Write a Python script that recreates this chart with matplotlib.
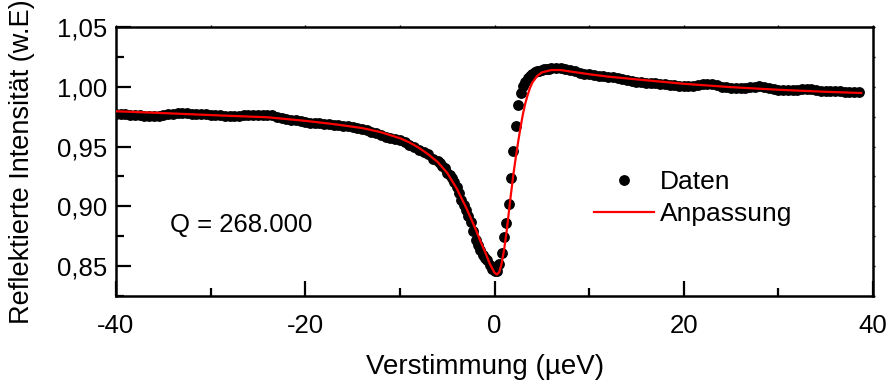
import numpy as np
import matplotlib
matplotlib.use("Agg")
import matplotlib.pyplot as plt
from matplotlib.ticker import MultipleLocator, FixedLocator, FuncFormatter

plt.rcParams['font.family'] = ['Liberation Sans', 'DejaVu Sans']
plt.rcParams['axes.unicode_minus'] = False

# Measured reflectance (detuning in µeV)
det_left = np.arange(-40.0, -6.25, 0.5)
refl_left = [
    0.9776, 0.9772, 0.9770, 0.9766, 0.9764, 0.9762, 0.9758, 0.9754, 0.9752, 0.9753,
    0.9762, 0.9772, 0.9776, 0.9778, 0.9778, 0.9777, 0.9776, 0.9775, 0.9774, 0.9770,
    0.9766, 0.9762, 0.9760, 0.9758, 0.9757, 0.9756, 0.9758, 0.9760, 0.9763, 0.9766,
    0.9768, 0.9768, 0.9766, 0.9760, 0.9751, 0.9742, 0.9733, 0.9725, 0.9718, 0.9710,
    0.9705, 0.9700, 0.9697, 0.9693, 0.9690, 0.9687, 0.9684, 0.9680, 0.9675, 0.9670,
    0.9664, 0.9657, 0.9650, 0.9638, 0.9625, 0.9610, 0.9595, 0.9580, 0.9570, 0.9563,
    0.9556, 0.9535, 0.9510, 0.9495, 0.9475, 0.9455, 0.9440, 0.9400,
]
det_mid = np.arange(-6.0, 5.875, 0.25)
refl_mid = [
    0.9380, 0.9360, 0.9340, 0.9320, 0.9280, 0.9265, 0.9235, 0.9200, 0.9160, 0.9110,
    0.9055, 0.9010, 0.8970, 0.8915, 0.8865, 0.8790, 0.8720, 0.8680, 0.8635, 0.8590,
    0.8565, 0.8550, 0.8510, 0.8480, 0.8455, 0.8460, 0.8515, 0.8610, 0.8745, 0.8860,
    0.9020, 0.9240, 0.9460, 0.9670, 0.9850, 0.9950, 1.0005, 1.0040, 1.0070, 1.0090,
    1.0110, 1.0120, 1.0130, 1.0135, 1.0140, 1.0145, 1.0150, 1.0150,
]
det_right = np.arange(6.0, 38.75, 0.5)
refl_right = [
    1.0158, 1.0160, 1.0158, 1.0152, 1.0143, 1.0128, 1.0118, 1.0110, 1.0103, 1.0098,
    1.0094, 1.0090, 1.0085, 1.0080, 1.0075, 1.0068, 1.0060, 1.0050, 1.0043, 1.0038,
    1.0034, 1.0031, 1.0029, 1.0027, 1.0022, 1.0017, 1.0013, 1.0010, 1.0007, 1.0005,
    1.0008, 1.0015, 1.0022, 1.0025, 1.0021, 1.0012, 1.0002, 0.9996, 0.9992, 0.9990,
    0.9987, 0.9989, 0.9995, 1.0002, 1.0003, 0.9998, 0.9988, 0.9981, 0.9977, 0.9974,
    0.9972, 0.9973, 0.9977, 0.9982, 0.9984, 0.9979, 0.9972, 0.9967, 0.9965, 0.9963,
    0.9962, 0.9962, 0.9960, 0.9958, 0.9957, 0.9956,
]

# Fitted line shape
fit_det = [-40, -36, -32, -28, -24, -20, -17, -14, -12, -10, -9, -8, -7, -6, -5, -4,
           -3, -2, -1.5, -1.0, -0.5, 0, 0.25, 0.5, 0.75, 1.0, 1.25, 1.5, 1.75, 2.0,
           2.25, 2.5, 2.75, 3.0, 3.25, 3.5, 3.75, 4.0, 4.5, 5.0, 6.0, 7.0, 8.0, 10,
           12, 15, 20, 25, 30, 35, 38.75]
fit_refl = [0.9795, 0.9783, 0.9770, 0.9757, 0.9745, 0.9715, 0.9688, 0.9655, 0.9620,
            0.9570, 0.9535, 0.9490, 0.9435, 0.9370, 0.9280, 0.9150, 0.8990, 0.8810,
            0.8710, 0.8620, 0.8520, 0.8445, 0.8430, 0.8450, 0.8520, 0.8630, 0.8770,
            0.8940, 0.9110, 0.9270, 0.9410, 0.9540, 0.9660, 0.9770, 0.9860, 0.9930,
            0.9990, 1.0035, 1.0090, 1.0120, 1.0140, 1.0140, 1.0128, 1.0105, 1.0085,
            1.0062, 1.0025, 0.9997, 0.9975, 0.9958, 0.9948]

x_ticks = [-40, -20, 0, 20, 40]
y_ticks = [0.85, 0.90, 0.95, 1.00, 1.05]
q_text = "Q = 268.000"

det = np.concatenate([det_left, det_mid, det_right])
refl = np.concatenate([refl_left, refl_mid, refl_right])

fig = plt.figure(figsize=(8.88, 3.83), dpi=100)
ax = fig.add_axes([116 / 888, 1 - 296 / 383, 757 / 888, 269 / 383])

ax.plot(det, refl, 'o', color='black', ms=7.8, mew=0, label='Daten', zorder=2)
ax.plot(fit_det, fit_refl, '-', color='#ff0000', lw=1.6, label='Anpassung', zorder=3)

ax.set_xlim(-40, 40)
ax.set_ylim(0.825, 1.05)
ax.xaxis.set_major_locator(FixedLocator(x_ticks))
ax.xaxis.set_minor_locator(MultipleLocator(10))
ax.yaxis.set_major_locator(FixedLocator(y_ticks))
ax.yaxis.set_minor_locator(MultipleLocator(0.025))
ax.xaxis.set_major_formatter(FuncFormatter(lambda v, p: f"{v:.0f}"))
ax.yaxis.set_major_formatter(FuncFormatter(lambda v, p: f"{v:.2f}".replace('.', ',')))

for s in ax.spines.values():
    s.set_linewidth(1.8)

ax.tick_params(which='both', direction='in', width=1.6, labelsize=18.5,
               top=False, right=False)
ax.tick_params(which='major', length=11)
ax.tick_params(which='minor', length=6)
ax.tick_params(axis='x', pad=13)
ax.tick_params(axis='y', pad=6)

# tiny outward ticks on the opposite spines
sec_x = ax.secondary_xaxis('top')
sec_x.xaxis.set_major_locator(MultipleLocator(10))
sec_x.tick_params(direction='out', length=1.5, width=1, labelsize=0, labeltop=False)
sec_x.spines['top'].set_visible(False)
sec_y = ax.secondary_yaxis('right')
sec_y.yaxis.set_major_locator(MultipleLocator(0.025))
sec_y.tick_params(direction='out', length=1.5, width=1, labelright=False)
sec_y.spines['right'].set_visible(False)

ax.set_xlabel("Verstimmung (µeV)", fontsize=20, labelpad=9)
ax.xaxis.set_label_coords(0.487, -0.215)
ax.set_ylabel("Reflektierte Intensität (w.E)", fontsize=19.5, labelpad=16)

ax.text(0.0713, 0.265, q_text, transform=ax.transAxes, fontsize=18.5,
        ha='left', va='center')

ax.legend(loc='upper left', bbox_to_anchor=(0.631, 0.467), frameon=False,
          fontsize=19, numpoints=1, handlelength=2.3, handletextpad=0.2,
          borderpad=0, borderaxespad=0, labelspacing=0.3)

fig.savefig("out.png", dpi=100)
